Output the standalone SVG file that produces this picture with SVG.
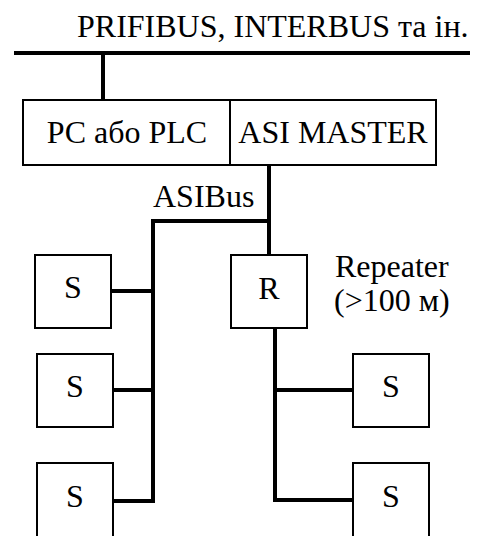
<svg xmlns="http://www.w3.org/2000/svg" width="479" height="536" viewBox="0 0 479 536">
<style>
.box{fill:#fff;stroke:#000;stroke-width:2}
.t{font-family:'Liberation Serif','Times New Roman','DejaVu Serif','Noto Serif',serif;font-size:32px;fill:#000}
.c{text-anchor:middle}
.w{fill:none;stroke:#000;stroke-width:4;stroke-linejoin:miter;stroke-linecap:butt}
</style>
<rect width="479" height="536" fill="#fff"/>
<g id="connectors">
<line class="w" x1="14" y1="53" x2="470" y2="53"/>
<line class="w" x1="103" y1="53" x2="103" y2="100"/>
<polyline class="w" points="269,165 269,255"/>
<polyline class="w" points="269,221 153,221 153,501 113,501"/>
<line class="w" x1="111" y1="291" x2="153" y2="291"/>
<line class="w" x1="113" y1="390" x2="153" y2="390"/>
<polyline class="w" points="275,328 275,500 353,500"/>
<line class="w" x1="275" y1="390" x2="353" y2="390"/>
</g>
<text class="t" x="77" y="37" font-family="Liberation Serif, serif">PRIFIBUS, INTERBUS та ін.</text>
<text class="t" x="153" y="207">ASIBus</text>
<g id="master">
<rect class="box" x="23" y="100" width="413" height="65"/>
<line x1="230" y1="100" x2="230" y2="165" stroke="#000" stroke-width="2"/>
<text class="t c" x="127" y="143">PC або PLC</text>
<text class="t c" x="333" y="143">ASI MASTER</text>
</g>
<g id="s1"><rect class="box" x="35" y="255" width="76" height="73"/><text class="t c" x="73" y="298">S</text></g>
<g id="s2"><rect class="box" x="37" y="354" width="76" height="73"/><text class="t c" x="75" y="397">S</text></g>
<g id="s3"><rect class="box" x="37" y="463" width="76" height="80"/><text class="t c" x="75" y="507">S</text></g>
<g id="r"><rect class="box" x="231" y="255" width="76" height="73"/><text class="t c" x="269" y="299">R</text></g>
<g id="s4"><rect class="box" x="353" y="354" width="76" height="73"/><text class="t c" x="391" y="397">S</text></g>
<g id="s5"><rect class="box" x="353" y="463" width="76" height="80"/><text class="t c" x="391" y="507">S</text></g>
<g id="repeater-label">
<text class="t" x="335" y="277">Repeater</text>
<text class="t" x="334" y="311">(&gt;100 м)</text>
</g>
</svg>
